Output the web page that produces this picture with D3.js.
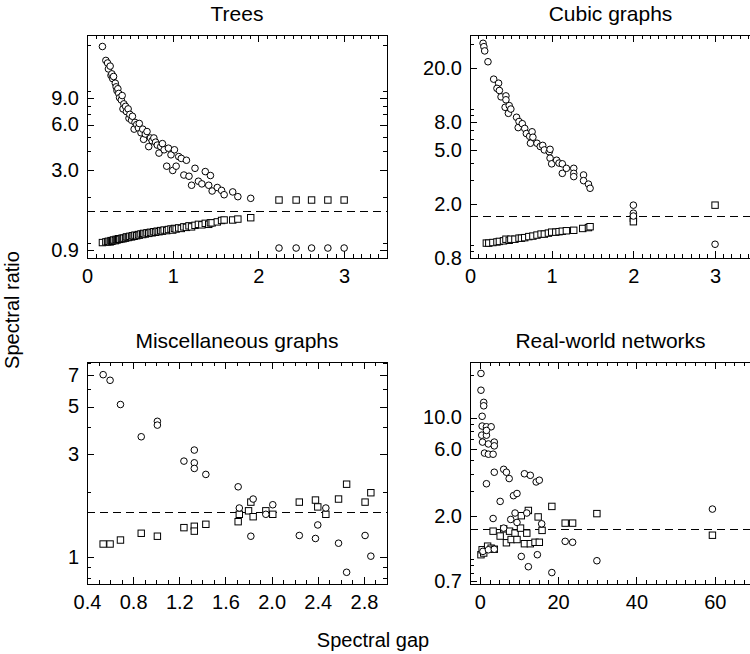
<!DOCTYPE html>
<html>
<head>
<meta charset="utf-8">
<script src="https://cdn.jsdelivr.net/npm/d3@7/dist/d3.min.js"></script>
<style>
  body { margin: 0; background: #fff; }
  svg text { font-family: "Liberation Sans", Arial, Helvetica, sans-serif; fill: #000; }
  .tick line, .frame, .ref-line { shape-rendering: crispEdges; }
</style>
</head>
<body>
<div id="chart"></div>
<script>
// reference line drawn in every panel (golden ratio)
const refRatio = 1.618;

// Trees: same gap for both series
const treesGap = [0.18,0.22,0.24,0.25,0.27,0.28,0.29,0.30,0.31,0.33,
  0.34,0.35,0.36,0.37,0.38,0.40,0.41,0.42,0.43,0.45,
  0.46,0.48,0.49,0.50,0.52,0.53,0.55,0.56,0.58,0.60,
  0.61,0.63,0.65,0.66,0.68,0.70,0.72,0.74,0.76,0.78,
  0.80,0.82,0.84,0.86,0.88,0.90,0.93,0.95,0.98,1.00,
  1.02,1.04,1.07,1.10,1.13,1.16,1.19,1.22,1.26,1.30,
  1.34,1.38,1.42,1.44,1.46,1.52,1.57,1.60,1.70,1.76,
  1.91,2.24,2.44,2.62,2.81,3.00];
const treesCircle = [19.5,15.8,15.2,13.9,14.5,12.6,12.9,12.0,12.4,11.2,
  10.6,10.0,10.3,9.6,9.0,8.7,9.3,7.6,8.2,7.9,
  7.3,7.6,6.6,7.0,6.4,6.8,5.6,6.2,6.0,5.7,
  6.1,5.3,5.6,4.8,5.2,5.4,4.3,4.9,4.7,4.9,
  4.6,4.4,3.9,4.3,4.5,4.1,3.2,4.2,3.8,3.0,
  4.1,3.2,3.7,3.6,2.8,3.5,2.75,2.4,3.1,2.55,
  2.45,2.95,2.4,2.78,2.2,2.32,2.22,2.08,2.17,2.02,
  1.97,0.93,0.93,0.93,0.93,0.93];
const treesSquare = [1.01,1.02,1.02,1.03,1.02,1.04,1.03,1.04,1.05,1.04,
  1.06,1.05,1.06,1.07,1.06,1.07,1.08,1.07,1.08,1.08,
  1.10,1.09,1.10,1.11,1.10,1.12,1.11,1.13,1.12,1.14,
  1.13,1.15,1.14,1.16,1.15,1.17,1.16,1.18,1.17,1.19,
  1.18,1.20,1.19,1.21,1.20,1.22,1.21,1.23,1.24,1.22,
  1.25,1.24,1.26,1.25,1.28,1.27,1.30,1.28,1.31,1.33,
  1.32,1.35,1.33,1.36,1.36,1.38,1.41,1.42,1.42,1.44,
  1.47,1.92,1.92,1.92,1.92,1.92];

// Cubic graphs [gap, ratio]
const cubicCircles = [[0.16,30.5],[0.17,28.8],[0.18,26.8],[0.22,22.3],[0.29,16.6],[0.35,15.5],[0.33,14.2],
  [0.36,13.7],[0.38,12.3],[0.44,12.5],[0.44,11.7],[0.43,10.3],[0.48,10.6],[0.47,9.3],[0.50,10.0],
  [0.57,8.7],[0.59,7.3],[0.60,8.1],[0.64,7.8],[0.67,7.2],[0.69,6.6],[0.73,6.3],[0.76,6.8],[0.77,6.2],
  [0.74,5.6],[0.82,5.6],[0.86,5.3],[0.89,5.4],[0.91,5.0],[0.97,4.85],[0.98,5.05],[0.98,4.35],[1.00,3.95],
  [1.06,4.2],[1.09,4.0],[1.13,3.95],[1.13,3.36],[1.18,3.66],[1.27,3.66],[1.27,3.36],[1.27,3.18],
  [1.39,3.27],[1.39,2.97],[1.45,2.80],[1.47,2.61],[2.0,1.96],[2.0,1.71],[2.0,1.63],[3.0,1.01]];
const cubicSquares = [[0.20,1.03],[0.23,1.03],[0.28,1.04],[0.33,1.05],[0.36,1.06],[0.41,1.07],[0.44,1.10],
  [0.48,1.08],[0.50,1.10],[0.55,1.10],[0.60,1.12],[0.63,1.12],[0.67,1.13],[0.72,1.15],[0.77,1.16],
  [0.82,1.18],[0.87,1.20],[0.91,1.20],[0.96,1.22],[1.00,1.24],[1.05,1.24],[1.09,1.25],[1.13,1.26],
  [1.18,1.27],[1.27,1.28],[1.38,1.32],[1.45,1.34],[1.47,1.36],[2.0,1.57],[2.0,1.48],[3.0,1.96]];

// Miscellaneous graphs
const miscCircles = [[0.54,7.03],[0.60,6.62],[0.69,5.11],[0.87,3.62],[1.01,4.27],[1.01,4.10],[1.24,2.79],
  [1.33,3.14],[1.33,2.74],[1.33,2.58],[1.43,2.42],[1.71,2.12],[1.72,1.69],[1.84,1.86],[1.82,1.25],
  [1.95,1.58],[2.01,1.75],[2.24,1.26],[2.38,1.22],[2.40,1.41],[2.47,1.69],[2.58,1.16],[2.65,0.85],
  [2.81,1.26],[2.86,1.01]];
const miscSquares = [[0.54,1.15],[0.60,1.15],[0.69,1.20],[0.87,1.29],[1.01,1.25],[1.24,1.37],[1.33,1.39],
  [1.33,1.32],[1.43,1.42],[1.71,1.46],[1.72,1.58],[1.82,1.80],[1.80,1.64],[1.84,1.54],[1.95,1.64],
  [2.01,1.58],[2.24,1.80],[2.38,1.84],[2.40,1.71],[2.47,1.58],[2.58,1.86],[2.65,2.18],[2.81,1.80],[2.86,1.99]];

// Real-world networks
const realCircles = [[0.3,20.5],[0.3,15.6],[1.0,12.8],[1.0,12.1],[0.6,10.2],[0.6,8.7],[1.7,8.6],[2.9,8.6],
  [0.5,7.5],[1.7,7.5],[1.7,8.1],[0.7,6.7],[2.2,6.5],[3.7,6.7],[3.7,6.3],[1.2,5.6],[2.2,5.5],[3.4,5.5],
  [3.7,4.1],[1.7,3.4],[5.2,2.55],[6.1,4.3],[6.8,4.1],[7.5,3.7],[8.6,2.8],[9.5,2.9],[11.4,4.0],[12.9,3.9],
  [14.4,3.5],[15.2,3.6],[3.4,1.93],[7.9,1.90],[9.0,2.11],[9.5,1.81],[6.1,1.65],[12.0,2.11],[15.8,1.77],
  [10.6,1.04],[12.4,0.88],[14.7,1.07],[18.4,0.80],[21.8,1.33],[23.7,1.31],[29.9,0.97],[59.4,2.25],
  [0.8,1.13],[2.2,1.16],[3.7,1.17]];
const realSquares = [[0.3,1.07],[0.6,1.16],[1.0,1.10],[2.0,1.23],[2.9,1.19],[3.7,1.17],[3.4,1.57],[5.2,1.45],
  [6.1,1.63],[6.8,1.30],[7.6,1.57],[8.0,1.37],[9.0,1.52],[9.5,1.37],[10.4,1.65],[10.6,2.02],[11.4,1.28],
  [12.0,1.52],[12.4,2.20],[12.9,1.28],[14.1,1.31],[14.9,1.98],[15.2,1.31],[15.9,1.59],[18.4,2.35],
  [21.8,1.79],[23.7,1.79],[29.9,2.09],[59.4,1.47]];

// tick labels
const treesXTicks = [0, 1, 2, 3];
const treesYTicks = [0.9, 3.0, 6.0, 9.0];
const cubicXTicks = [0, 1, 2, 3];
const cubicYTicks = [0.8, 2.0, 5.0, 8.0, 20.0];
const miscXTicks = [0.4, 0.8, 1.2, 1.6, 2.0, 2.4, 2.8];
const miscYTicks = [1, 3, 5, 7];
const realXTicks = [0, 20, 40, 60];
const realYTicks = [0.7, 2.0, 6.0, 10.0];

const svg = d3.select("#chart").append("svg")
    .attr("width", 750)
    .attr("height", 654);

function drawPanel(p) {
    const g = svg.append("g").attr("transform", `translate(${p.left},${p.top})`);

    const x = d3.scaleLinear().domain(p.xDomain).range([0, p.width]);
    const y = d3.scaleLog().domain(p.yDomain).range([p.height, 0]);

    // title
    g.append("text")
        .attr("x", p.width / 2)
        .attr("y", -14)
        .attr("text-anchor", "middle")
        .style("font-size", "21px")
        .text(p.title);

    // minor ticks
    const xMinor = d3.range(p.xDomain[0], p.xDomain[1] + 1e-9, p.xMinorStep)
        .filter(v => !p.xTicks.some(t => Math.abs(t - v) < 1e-6));
    const yMinor = y.ticks(20).filter(v => !p.yTicks.some(t => Math.abs(t - v) < 1e-6));

    const axes = [
        [d3.axisBottom(x).tickValues(p.xTicks).tickSize(-7).tickPadding(11).tickFormat(p.xFormat), `translate(0,${p.height})`],
        [d3.axisBottom(x).tickValues(xMinor).tickSize(-4).tickFormat(""), `translate(0,${p.height})`],
        [d3.axisTop(x).tickValues(p.xTicks).tickSize(-7).tickFormat(""), null],
        [d3.axisTop(x).tickValues(xMinor).tickSize(-4).tickFormat(""), null],
        [d3.axisLeft(y).tickValues(p.yTicks).tickSize(-7).tickPadding(8).tickFormat(p.yFormat), null],
        [d3.axisLeft(y).tickValues(yMinor).tickSize(-4).tickFormat(""), null]
    ];
    if (p.rightTicks) {
        axes.push([d3.axisRight(y).tickValues(p.yTicks).tickSize(-7).tickFormat(""), `translate(${p.width},0)`]);
        axes.push([d3.axisRight(y).tickValues(yMinor).tickSize(-4).tickFormat(""), `translate(${p.width},0)`]);
    }
    axes.forEach(([axis, tr]) => {
        const a = g.append("g").call(axis);
        if (tr) a.attr("transform", tr);
        a.select(".domain").remove();
        a.selectAll(".tick line").attr("stroke", "#000");
        a.selectAll(".tick text")
            .style("font-size", "20px")
            .style("font-family", '"Liberation Sans", Arial, Helvetica, sans-serif');
    });

    // frame
    g.append("rect")
        .attr("class", "frame")
        .attr("width", p.width)
        .attr("height", p.height)
        .attr("fill", "none")
        .attr("stroke", "#000");

    // dashed reference
    g.append("line")
        .attr("class", "ref-line")
        .attr("x1", 0).attr("x2", p.width)
        .attr("y1", y(refRatio)).attr("y2", y(refRatio))
        .attr("stroke", "#000")
        .attr("stroke-dasharray", "8,5");

    // squares
    g.selectAll(".sq")
        .data(p.squares)
        .enter()
        .append("rect")
        .attr("class", "sq")
        .attr("x", d => x(d[0]) - 3.2)
        .attr("y", d => y(d[1]) - 3.2)
        .attr("width", 6.4)
        .attr("height", 6.4)
        .attr("fill", "#fff")
        .attr("stroke", "#000")
        .attr("stroke-width", 1);

    // circles
    g.selectAll(".pt")
        .data(p.circles)
        .enter()
        .append("circle")
        .attr("class", "pt")
        .attr("cx", d => x(d[0]))
        .attr("cy", d => y(d[1]))
        .attr("r", 3.3)
        .attr("fill", "#fff")
        .attr("stroke", "#000")
        .attr("stroke-width", 1);
}

const fmt1 = d3.format(".1f");
const fmtInt = d3.format("d");

drawPanel({
    title: "Trees", left: 87, top: 35, width: 300, height: 223,
    xDomain: [0, 3.5], yDomain: [0.80, 23.2], rightTicks: true,
    xTicks: treesXTicks, yTicks: treesYTicks, xMinorStep: 0.1, xFormat: fmtInt, yFormat: fmt1,
    circles: treesGap.map((g, i) => [g, treesCircle[i]]),
    squares: treesGap.map((g, i) => [g, treesSquare[i]])
});

drawPanel({
    title: "Cubic graphs", left: 470, top: 35, width: 281, height: 223,
    xDomain: [0, 3.44], yDomain: [0.80, 35.1], rightTicks: false,
    xTicks: cubicXTicks, yTicks: cubicYTicks, xMinorStep: 0.1, xFormat: fmtInt, yFormat: fmt1,
    circles: cubicCircles, squares: cubicSquares
});

drawPanel({
    title: "Miscellaneous graphs", left: 87, top: 362, width: 300, height: 222,
    xDomain: [0.4, 3.0], yDomain: [0.75, 8.05], rightTicks: true,
    xTicks: miscXTicks, yTicks: miscYTicks, xMinorStep: 0.1, xFormat: fmt1, yFormat: fmtInt,
    circles: miscCircles, squares: miscSquares
});

drawPanel({
    title: "Real-world networks", left: 470, top: 362, width: 281, height: 222,
    xDomain: [-2.5, 69.25], yDomain: [0.664, 24.7], rightTicks: false,
    xTicks: realXTicks, yTicks: realYTicks, xMinorStep: 2.5, xFormat: fmtInt, yFormat: fmt1,
    circles: realCircles, squares: realSquares
});

// shared axis titles
svg.append("text")
    .attr("transform", "translate(19,310) rotate(-90)")
    .attr("text-anchor", "middle")
    .style("font-size", "20px")
    .text("Spectral ratio");

svg.append("text")
    .attr("x", 373)
    .attr("y", 647)
    .attr("text-anchor", "middle")
    .style("font-size", "20px")
    .text("Spectral gap");
</script>
</body>
</html>
